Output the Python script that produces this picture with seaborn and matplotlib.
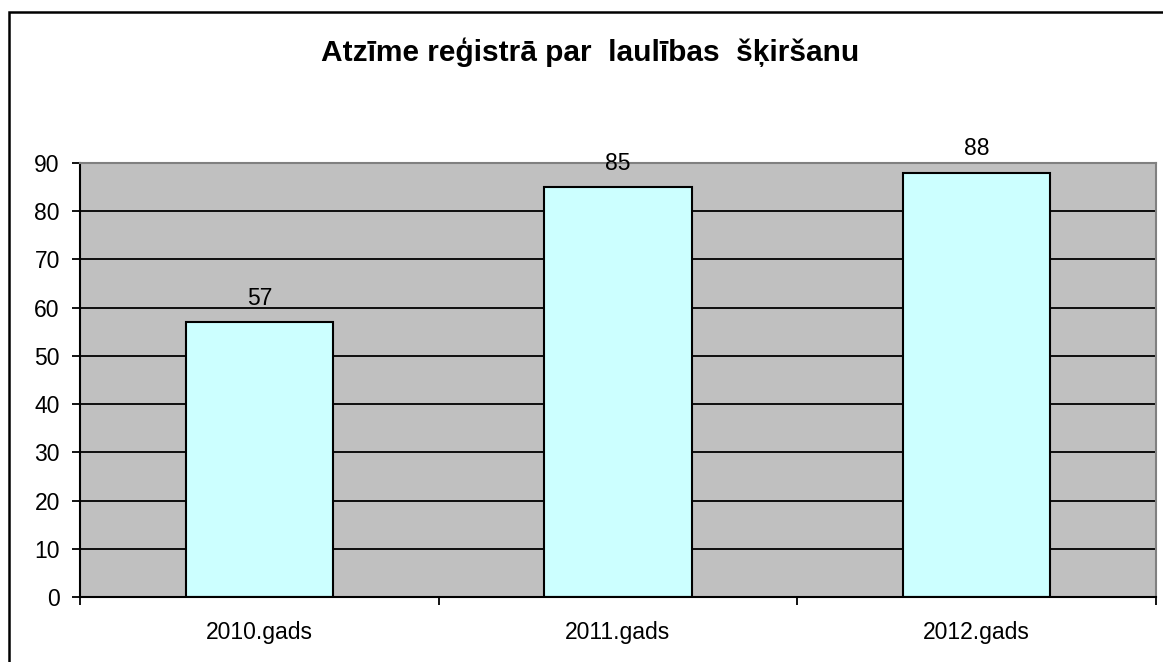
import matplotlib
matplotlib.use("Agg")
import matplotlib.pyplot as plt
import seaborn as sns
import pandas as pd
from matplotlib.patches import Rectangle

categories = ["2010.gads", "2011.gads", "2012.gads"]
values = [57, 85, 88]
title = "Atzīme reģistrā par  laulības  šķiršanu"

sns.set_theme(style="white")
plt.rcParams['font.family'] = ['Liberation Sans', 'DejaVu Sans']

df = pd.DataFrame({"cat": categories, "val": values})

fig = plt.figure(figsize=(11.63, 6.62), dpi=100)
ax = fig.add_axes([80/1163, 1-597/662, (1156-80)/1163, (597-163)/662])
ax.set_facecolor("#C0C0C0")

sns.barplot(data=df, x="cat", y="val", ax=ax, color="#CCFFFF", width=0.41,
            edgecolor="black", linewidth=1.5, saturation=1, zorder=3)

ax.set_ylim(0, 90)
ax.set_xlim(-0.5, 2.5)
ax.set_yticks(range(0, 91, 10))
ax.yaxis.grid(True, color="black", linewidth=1.3, zorder=0)
ax.set_axisbelow(True)
ax.set_xlabel("")
ax.set_ylabel("")

for i, v in enumerate(values):
    ax.annotate(str(v), (i, v), xytext=(0, 9), textcoords="offset points",
                ha="center", va="bottom", fontsize=16.5, color="black",
                zorder=6)

ax.tick_params(axis="y", which="major", left=True, length=5.5, width=1.3,
               color="black", labelsize=16.5, pad=9, labelcolor="black")
ax.set_xticks([0, 1, 2])
ax.set_xticklabels(categories)
ax.tick_params(axis="x", which="major", bottom=False, length=0, labelsize=16.5,
               pad=17, labelcolor="black")
ax.set_xticks([-0.5, 0.5, 1.5, 2.5], minor=True)
ax.tick_params(axis="x", which="minor", bottom=True, length=6, width=1.3,
               color="black")

for s in ["left", "bottom"]:
    ax.spines[s].set_color("black")
    ax.spines[s].set_linewidth(1.5)
for s in ["top", "right"]:
    ax.spines[s].set_color("#808080")
    ax.spines[s].set_linewidth(1.5)
ax.spines["bottom"].set_zorder(5)

fig.text(590/1163, 1-52/662, title, ha="center", va="center",
         fontsize=21.5, fontweight="bold", color="black")

fig.patches.append(Rectangle((9/1163, -0.05), 1.2, 1-12/662+0.05,
                             transform=fig.transFigure, fill=False,
                             edgecolor="black", linewidth=1.8))

fig.savefig("out.png", dpi=100)
